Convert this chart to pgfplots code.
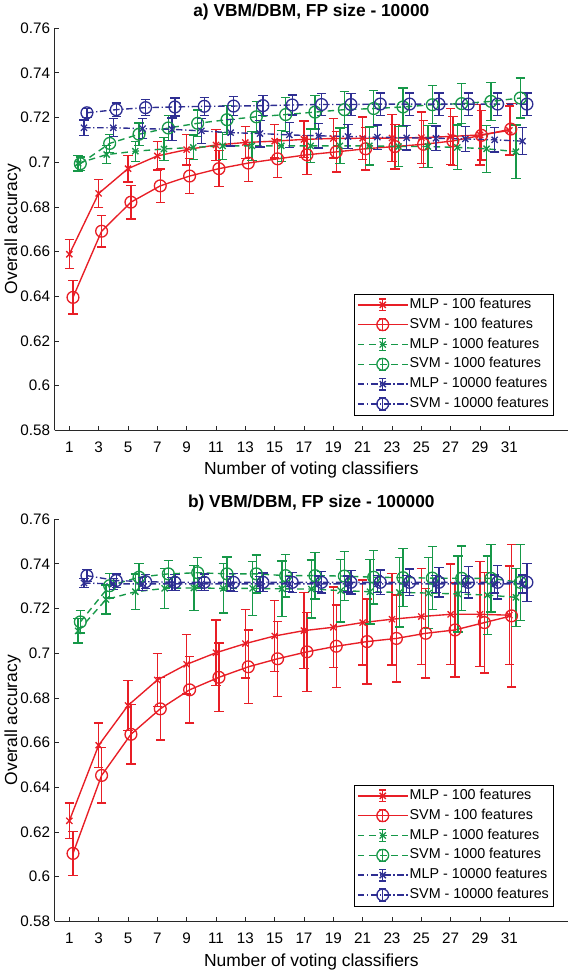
\documentclass[border=0pt]{standalone}
\usepackage{fontspec}
\setmainfont{Liberation Sans}
\usepackage{pgfplots}
\pgfplotsset{compat=1.18}
\definecolor{cred}{RGB}{232,30,38}
\definecolor{cgreen}{RGB}{22,152,72}
\definecolor{cblue}{RGB}{46,46,146}
\definecolor{axgray}{RGB}{40,40,40}
\pgfplotsset{
  panel/.style={
    scale only axis, width=391pt, height=306.4pt,
    xmin=0, xmax=35, ymin=0.58, ymax=0.76,
    xtick={1,3,...,31}, ytick={0.58,0.6,...,0.761},
    axis x line*=bottom, axis y line*=left,
    axis line style={axgray, line width=0.5pt},
    tick style={axgray, line width=0.5pt},
    tick align=inside, major tick length=3pt,
    /pgf/number format/assume math mode=true,
    yticklabel style={/pgf/number format/.cd, fixed, precision=2},
    ticklabel style={font=\fontsize{11.6}{13}\selectfont},
    xticklabel style={anchor=base, yshift=-17pt},
    label style={font=\fontsize{13.3}{15}\selectfont},
    xlabel={Number of voting classifiers},
    ylabel={Overall accuracy},
    xlabel style={at={(axis description cs:0.5,0)}, anchor=base, yshift=-34pt},
    ylabel style={at={(axis description cs:-0.107,0.5)}, anchor=north},
    title style={at={(axis description cs:0.5,1)}, anchor=base, yshift=2.5pt, font=\bfseries\fontsize{13.2}{15}\selectfont},
    legend style={at={(0.971,0.038)}, anchor=south east, draw=black,
      font=\fontsize{10.9}{12}\selectfont, legend cell align=left,
      nodes={inner sep=1pt, text height=8pt, text depth=2.5pt}, row sep=2.6pt,
      inner xsep=2pt, inner ysep=2pt},
    legend image code/.code={
      \draw[line width=1.05pt, mark repeat=2,mark phase=2] plot coordinates {(0pt,0pt) (19pt,0pt) (38pt,0pt)};
      \draw[solid, line width=1pt] (19pt,-4.5pt) -- (19pt,4.5pt) (16.3pt,-4.5pt) -- (21.7pt,-4.5pt) (16.3pt,4.5pt) -- (21.7pt,4.5pt);
    },
    error bars/y dir=both, error bars/y explicit,
    error bars/error mark=-,
    error bars/error mark options={rotate=90, mark size=3.6pt, line width=1pt, solid},
    error bars/error bar style={line width=1pt, solid},
  },
  smlp/.style={line width=1.05pt, mark=x, mark size=3.3pt, mark options={solid, line width=1pt}},
  ssvm/.style={line width=1.05pt, mark=o, mark size=4.5pt, mark options={solid, line width=1pt}},
  sred/.style={cred, solid},
  sgreen/.style={cgreen, dash pattern=on 5pt off 3.5pt},
  sblue/.style={cblue, dash pattern=on 5pt off 2pt on 1pt off 2pt},
}
\begin{document}
\begin{tikzpicture}
% ---------------- panel a ----------------
\begin{axis}[panel, at={(0,374pt)}, title={a) VBM/DBM, FP size - 10000}]
\addplot[smlp, sred] table[x=x, y=y, y error=e] {
x y e
1 0.6588 0.0065
3 0.6860 0.0062
5 0.6971 0.0060
7 0.7028 0.0063
9 0.7056 0.0068
11 0.7077 0.0070
13 0.7088 0.0072
15 0.7094 0.0075
17 0.7102 0.0082
19 0.7106 0.0088
21 0.7107 0.0095
23 0.7108 0.0105
25 0.7110 0.0115
27 0.7115 0.0125
29 0.7122 0.0135
31 0.7142 0.0110
};
\addlegendentry{MLP - 100 features}
\addplot[ssvm, sred] table[x=x, y=y, y error=e] {
x y e
1.25 0.6395 0.0075
3.2 0.6691 0.0070
5.2 0.6821 0.0075
7.2 0.6894 0.0075
9.2 0.6938 0.0078
11.2 0.6971 0.0080
13.2 0.6996 0.0082
15.2 0.7015 0.0085
17.2 0.7033 0.0087
19.2 0.7046 0.0090
21.2 0.7060 0.0095
23.2 0.7070 0.0100
25.15 0.7080 0.0105
27.15 0.7095 0.0110
29.1 0.7120 0.0110
31.1 0.7148 0.0115
};
\addlegendentry{SVM - 100 features}
\addplot[smlp, sgreen] table[x=x, y=y, y error=e] {
x y e
1.6 0.6995 0.0035
3.55 0.7034 0.0040
5.5 0.7049 0.0045
7.45 0.7059 0.0050
9.45 0.7066 0.0055
11.45 0.7073 0.0060
13.45 0.7073 0.0065
15.45 0.7073 0.0070
17.45 0.7073 0.0075
19.45 0.7073 0.0080
21.45 0.7073 0.0085
23.45 0.7070 0.0090
25.45 0.7070 0.0095
27.45 0.7066 0.0100
29.45 0.7060 0.0105
31.45 0.7047 0.0120
};
\addlegendentry{MLP - 1000 features}
\addplot[ssvm, sgreen] table[x=x, y=y, y error=e] {
x y e
1.75 0.6993 0.0030
3.75 0.7084 0.0040
5.75 0.7125 0.0050
7.75 0.7153 0.0055
9.75 0.7174 0.0060
11.75 0.7190 0.0065
13.75 0.7203 0.0070
15.75 0.7213 0.0075
17.75 0.7224 0.0075
19.75 0.7235 0.0080
21.75 0.7240 0.0080
23.75 0.7247 0.0085
25.75 0.7257 0.0085
27.75 0.7262 0.0090
29.75 0.7272 0.0085
31.75 0.7287 0.0090
};
\addlegendentry{SVM - 1000 features}
\addplot[smlp, sblue] table[x=x, y=y, y error=e] {
x y e
2 0.7154 0.0035
4 0.7154 0.0040
6 0.7150 0.0045
8 0.7147 0.0050
10 0.7140 0.0055
12 0.7132 0.0060
14 0.7128 0.0060
16 0.7122 0.0055
18 0.7118 0.0055
20 0.7115 0.0055
22 0.7112 0.0055
24 0.7109 0.0055
26 0.7107 0.0055
28 0.7104 0.0055
30 0.7100 0.0055
31.9 0.7094 0.0060
};
\addlegendentry{MLP - 10000 features}
\addplot[ssvm, sblue] table[x=x, y=y, y error=e] {
x y e
2.2 0.7221 0.0020
4.2 0.7235 0.0030
6.2 0.7244 0.0035
8.2 0.7247 0.0040
10.2 0.7250 0.0040
12.2 0.7251 0.0043
14.2 0.7253 0.0045
16.2 0.7256 0.0045
18.2 0.7258 0.0048
20.2 0.7258 0.0048
22.2 0.7260 0.0050
24.2 0.7260 0.0050
26.2 0.7260 0.0050
28.2 0.7260 0.0050
30.2 0.7260 0.0050
32.2 0.7260 0.0050
};
\addlegendentry{SVM - 10000 features}
\end{axis}
% ---------------- panel b ----------------
\begin{axis}[panel, at={(0,0)}, title={b) VBM/DBM, FP size - 100000}]
\addplot[smlp, sred] table[x=x, y=y, y error=e] {
x y e
1 0.6250 0.0079
3 0.6588 0.0099
5 0.6766 0.0112
7 0.6880 0.0120
9 0.6950 0.0133
11 0.7002 0.0146
13 0.7043 0.0154
15 0.7077 0.0160
17 0.7101 0.0170
19 0.7116 0.0180
21 0.7137 0.0190
23 0.7152 0.0205
25 0.7164 0.0215
27 0.7174 0.0225
29 0.7174 0.0235
31 0.7170 0.0220
};
\addlegendentry{MLP - 100 features}
\addplot[ssvm, sred] table[x=x, y=y, y error=e] {
x y e
1.25 0.6104 0.0098
3.2 0.6453 0.0124
5.2 0.6637 0.0133
7.2 0.6751 0.0139
9.2 0.6836 0.0148
11.2 0.6892 0.0154
13.2 0.6939 0.0165
15.2 0.6975 0.0168
17.2 0.7006 0.0176
19.2 0.7031 0.0185
21.3 0.7052 0.0190
23.3 0.7066 0.0195
25.3 0.7089 0.0200
27.3 0.7104 0.0210
29.3 0.7137 0.0225
31.15 0.7167 0.0318
};
\addlegendentry{SVM - 100 features}
\addplot[smlp, sgreen] table[x=x, y=y, y error=e] {
x y e
1.6 0.7100 0.0055
3.5 0.7240 0.0065
5.5 0.7275 0.0080
7.5 0.7290 0.0090
9.5 0.7292 0.0100
11.5 0.7290 0.0110
13.5 0.7290 0.0120
15.5 0.7288 0.0125
17.5 0.7287 0.0130
19.5 0.7280 0.0140
21.5 0.7275 0.0145
23.5 0.7272 0.0155
25.5 0.7269 0.0160
27.5 0.7265 0.0170
29.5 0.7260 0.0175
31.45 0.7250 0.0130
};
\addlegendentry{MLP - 1000 features}
\addplot[ssvm, sgreen] table[x=x, y=y, y error=e] {
x y e
1.75 0.7140 0.0050
3.75 0.7302 0.0055
5.75 0.7340 0.0060
7.75 0.7355 0.0060
9.75 0.7360 0.0068
11.75 0.7355 0.0075
13.75 0.7355 0.0085
15.75 0.7347 0.0095
17.75 0.7347 0.0105
19.75 0.7345 0.0110
21.75 0.7340 0.0120
23.75 0.7338 0.0130
25.75 0.7336 0.0140
27.75 0.7335 0.0145
29.75 0.7335 0.0150
31.75 0.7317 0.0170
};
\addlegendentry{SVM - 1000 features}
\addplot[smlp, sblue] table[x=x, y=y, y error=e] {
x y e
2 0.7314 0.0020
4 0.7310 0.0025
6 0.7310 0.0028
8 0.7310 0.0030
10 0.7310 0.0030
12 0.7310 0.0032
14 0.7310 0.0033
16 0.7310 0.0034
18 0.7310 0.0035
20 0.7310 0.0036
22 0.7310 0.0037
24 0.7310 0.0038
26 0.7310 0.0038
28 0.7310 0.0039
30 0.7310 0.0040
31.9 0.7310 0.0040
};
\addlegendentry{MLP - 10000 features}
\addplot[ssvm, sblue] table[x=x, y=y, y error=e] {
x y e
2.2 0.7347 0.0027
4.2 0.7325 0.0030
6.2 0.7320 0.0032
8.2 0.7317 0.0035
10.2 0.7317 0.0038
12.2 0.7317 0.0040
14.2 0.7317 0.0042
16.2 0.7317 0.0045
18.2 0.7317 0.0048
20.2 0.7317 0.0052
22.2 0.7317 0.0055
24.2 0.7317 0.0060
26.2 0.7317 0.0065
28.2 0.7317 0.0070
30.2 0.7317 0.0075
32.2 0.7317 0.0085
};
\addlegendentry{SVM - 10000 features}
\end{axis}
\end{tikzpicture}
\end{document}
